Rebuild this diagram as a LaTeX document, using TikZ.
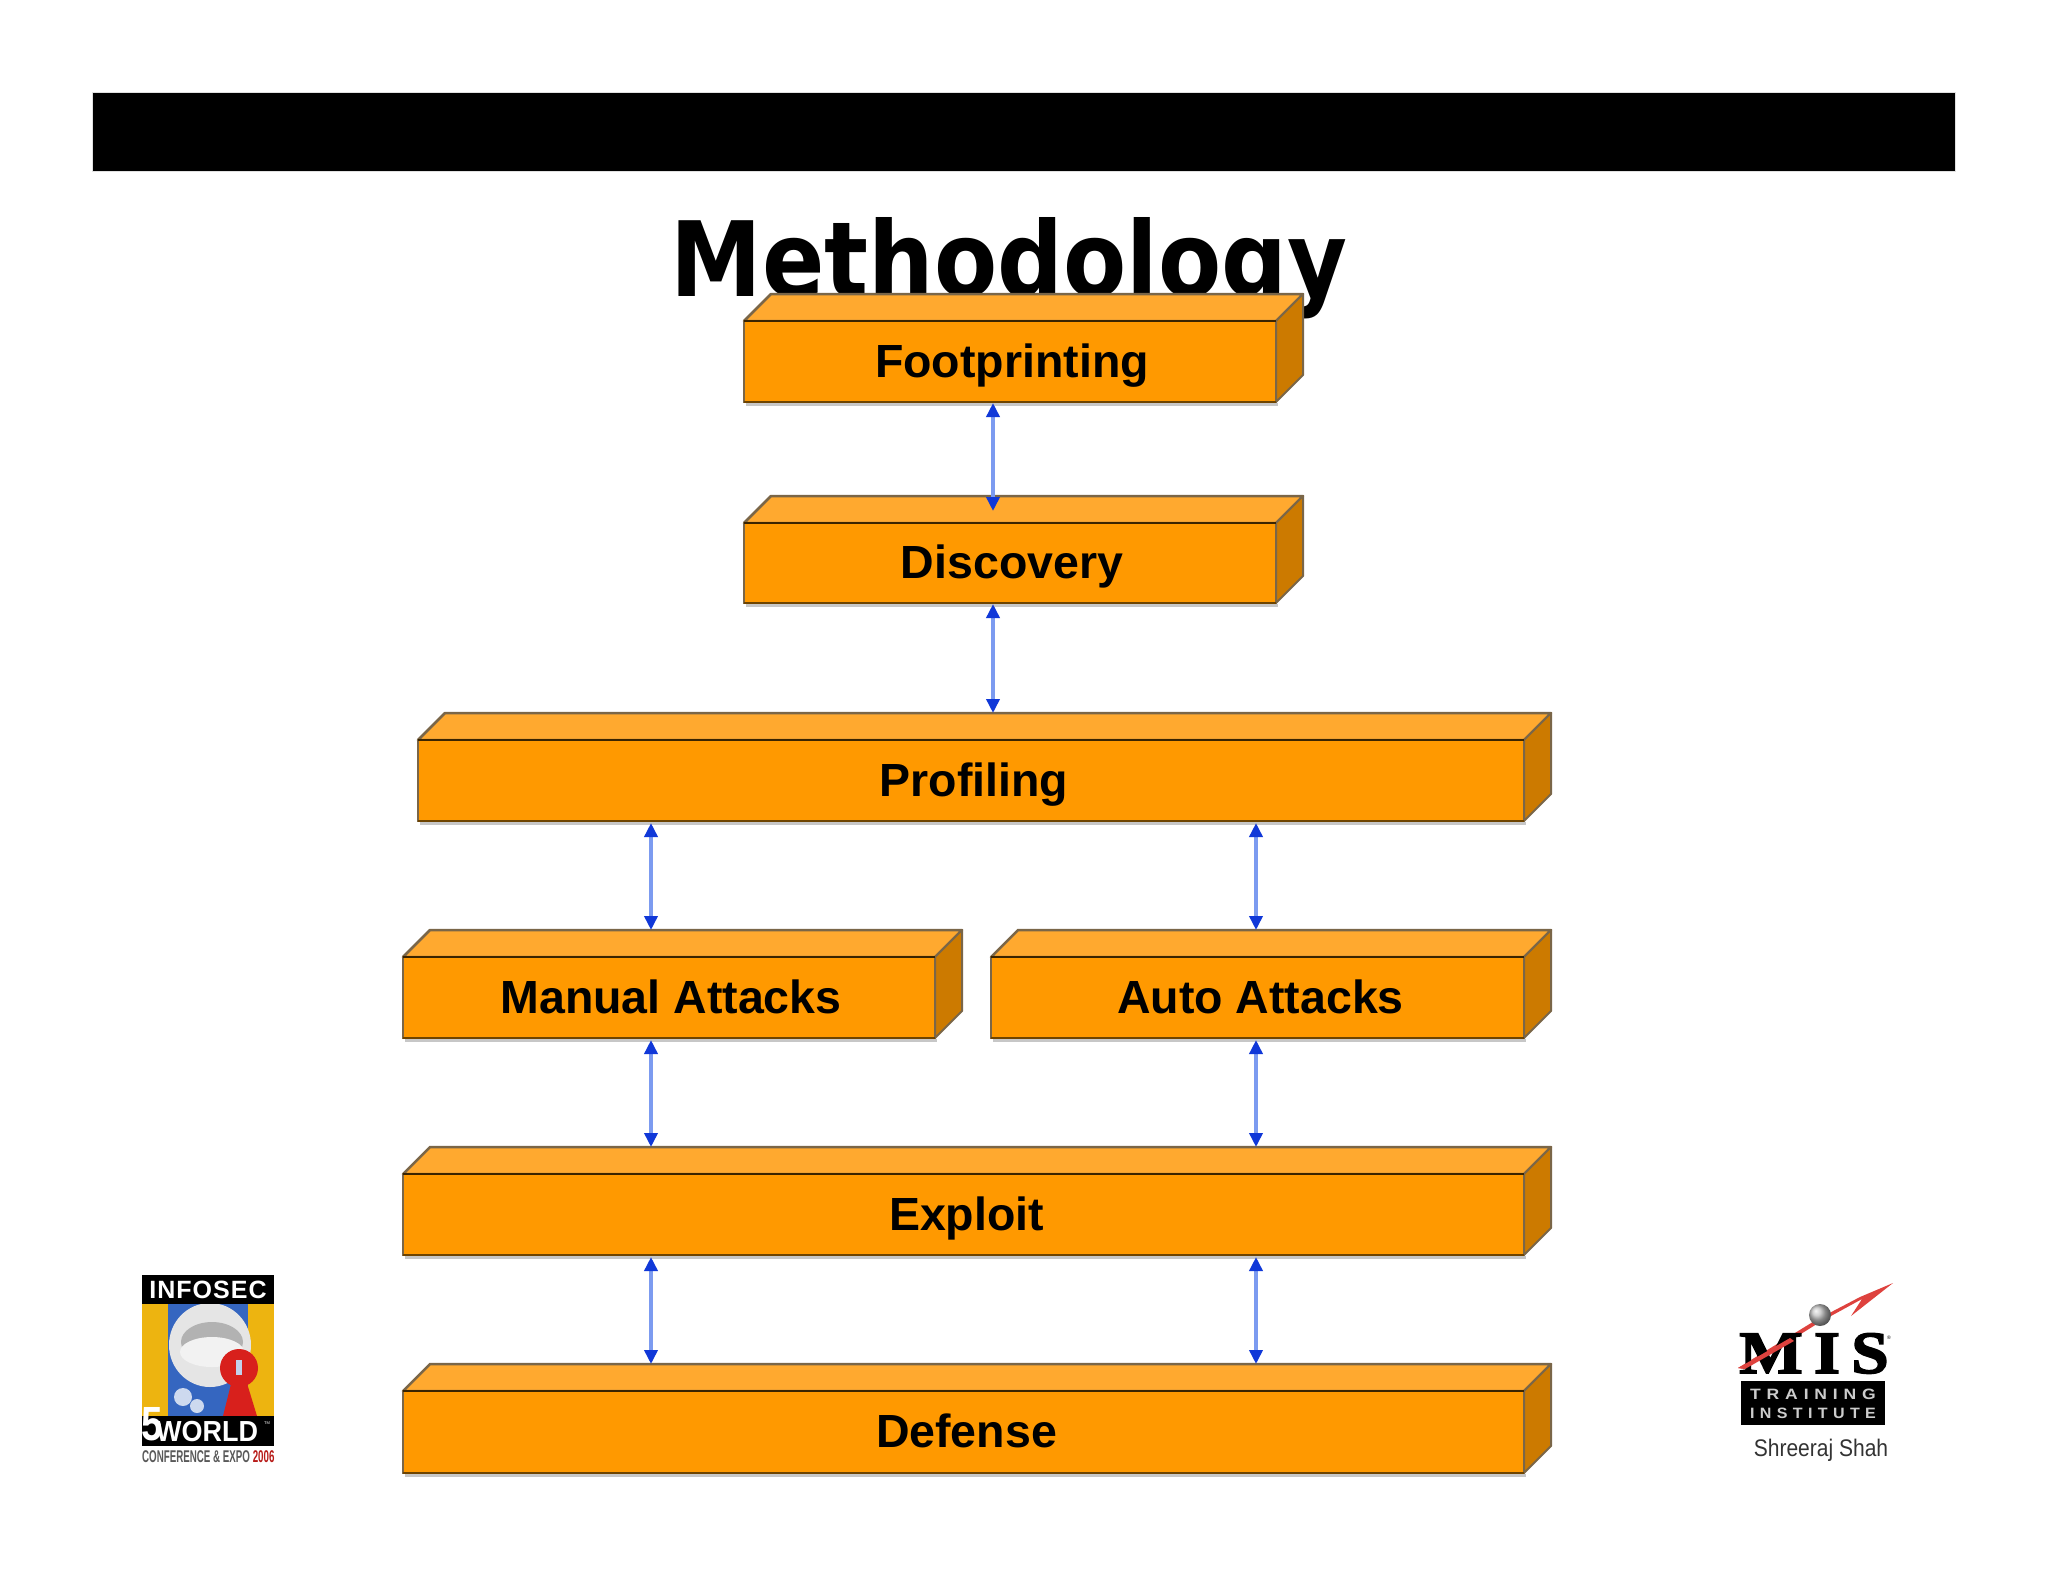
\documentclass[tikz,border=0pt]{standalone}
\usepackage{fontspec}
\setmainfont{Liberation Sans}
\newfontfamily\titlefont{DejaVu Sans}
\newfontfamily\serifbold[FakeBold=2.5]{Liberation Serif}
\usetikzlibrary{arrows.meta}
\definecolor{slabfront}{HTML}{FF9900}
\definecolor{slabtop}{HTML}{FFA92F}
\definecolor{slabside}{HTML}{CC7A00}
\definecolor{slabedge}{HTML}{7A6648}
\definecolor{slabdark}{HTML}{3A2400}
\definecolor{slablow}{HTML}{6E4400}
\definecolor{linkline}{HTML}{7C9BF0}
\definecolor{linktip}{HTML}{1038D8}
\definecolor{logored}{HTML}{D8201C}
\definecolor{logoyellow}{HTML}{EDB410}
\definecolor{logoblue}{HTML}{3566C0}
\tikzset{
  facetop/.style={fill=slabtop,draw=slabedge,line width=2.5pt,line join=round},
  faceside/.style={fill=slabside,draw=slabedge,line width=2pt,line join=round},
  slabfrontbox/.style={fill=slabfront,draw=slabedge,line width=2.5pt,inner sep=0pt,outer sep=0pt,align=center},
  slablabel/.style={inner sep=0pt,font=\fontsize{46.5}{50}\selectfont\bfseries,text height=33pt,text depth=0pt},
  link/.style={line width=4pt,draw=linkline,{Triangle[width=13pt,length=14pt,color=linktip]}-{Triangle[width=13pt,length=14pt,color=linktip]}}
}
% name, left, top, right, bottom, text, text shift
\newcommand{\slab}[7]{%
  \pgfmathsetlengthmacro{\slabw}{(#4-#2)*1pt}%
  \pgfmathsetlengthmacro{\slabh}{(#5-#3)*1pt}%
  \pgfmathsetmacro{\slabcx}{(#2+#4)/2}%
  \pgfmathsetmacro{\slabcy}{(#3+#5)/2}%
  \fill[black!22] (#2+2,#5+1) rectangle (#4+2,#5+4);
  \draw[facetop] (#2,#3) -- (#2+27,#3-27) -- (#4+27,#3-27) -- (#4,#3) -- cycle;
  \draw[faceside] (#4,#3) -- (#4+27,#3-27) -- (#4+27,#5-27) -- (#4,#5) -- cycle;
  \node[slabfrontbox,minimum width=\slabw,minimum height=\slabh] (#1) at (\slabcx,\slabcy) {};
  \node[slablabel] (#1-label) at (\slabcx+#7,\slabcy-1) {#6};
  \draw[slabdark,line width=2.5pt] (#1.north west) -- (#1.north east);
  \draw[slablow,line width=2.5pt] (#1.south west) -- (#1.south east);
  \coordinate (#1-back) at (\slabcx,#3-27);
}
\begin{document}
\begin{tikzpicture}[x=1pt,y=-1pt]
\useasboundingbox (0,0) rectangle (2048,1582);
\fill[white] (0,0) rectangle (2048,1582);
% header bar
\fill[black!12] (92,92) rectangle (1956,172);
\fill[black] (93,93) rectangle (1955,171);
% title
\node[anchor=base,inner sep=0pt,font=\titlefont\bfseries\fontsize{104}{110}\selectfont] (title) at (1009,296) {\scalebox{.885}[1]{Methodology}};
% slabs
\slab{foot}{744}{321}{1276}{402}{Footprinting}{2}
\slab{disc}{744}{523}{1276}{603}{Discovery}{2}
\slab{prof}{418}{740}{1524}{821}{Profiling}{3}
\slab{manu}{403}{957}{935}{1038}{Manual Attacks}{2}
\slab{auto}{991}{957}{1524}{1038}{Auto Attacks}{3}
\slab{expl}{403}{1174}{1524}{1255}{Exploit}{3}
\slab{defe}{403}{1391}{1524}{1473}{Defense}{3}
% connector positions
\coordinate (xmid) at (993,0);
\coordinate (xleft) at (651,0);
\coordinate (xright) at (1256,0);
% connectors
\draw[link,shorten <=-1pt,shorten >=-15pt] (foot.south -| xmid) ++(0,2) -- (disc-back -| xmid);
\draw[link,shorten <=-1pt] (disc.south -| xmid) ++(0,2) -- (prof-back -| xmid);
\draw[link] (prof.south -| xleft) ++(0,2) -- (manu-back -| xleft);
\draw[link] (prof.south -| xright) ++(0,2) -- (auto-back -| xright);
\draw[link] (manu.south -| xleft) ++(0,2) -- (expl-back -| xleft);
\draw[link] (auto.south -| xright) ++(0,2) -- (expl-back -| xright);
\draw[link] (expl.south -| xleft) ++(0,2) -- (defe-back -| xleft);
\draw[link] (expl.south -| xright) ++(0,2) -- (defe-back -| xright);
% left logo
\fill[logoyellow] (142,1304) rectangle (274,1416);
\fill[logoblue] (168,1304) rectangle (248,1416);
\fill[black!10] (210,1345) ellipse (41 and 42);
\fill[black!30] (212,1342) ellipse (31 and 20);
\fill[black!5] (212,1352) ellipse (32 and 15);
\fill[white!75!logoblue] (183,1397) circle (9);
\fill[white!75!logoblue] (197,1406) circle (7);
\fill[logored] (239,1368) circle (19);
\fill[logored] (232,1380) -- (246,1380) -- (257,1416) -- (223,1416) -- cycle;
\fill[white!70!logoblue] (236,1360) rectangle (242,1375);
\fill[black] (142,1275) rectangle (274,1304);
\node[text=white,inner sep=0pt,font=\bfseries\fontsize{25}{28}\selectfont] (infosec) at (208,1290) {I\kern1ptN\kern1ptF\kern1ptO\kern1ptS\kern1ptE\kern1ptC};
\fill[black] (142,1416) rectangle (274,1446);
\node[text=white,anchor=west,inner sep=0pt,font=\bfseries\fontsize{29}{30}\selectfont] (world) at (156,1431) {\scalebox{.93}[1]{WORLD}};
\node[text=white,inner sep=0pt,font=\bfseries\fontsize{48}{50}\selectfont] (five) at (152,1424) {\scalebox{.8}[1]{5}};
\node[text=white,inner sep=0pt,font=\fontsize{4}{5}\selectfont] (tm) at (267,1423) {TM};
\node[anchor=west,text=black!65,inner sep=0pt,font=\bfseries\fontsize{17}{18}\selectfont] (conf) at (142,1457) {\scalebox{.574}[1]{CONFERENCE \& EXPO \textcolor{logored!85!black}{2006}}};
% right logo
\fill[logored!85!white] (1738,1368) -- (1816,1320) -- (1860,1297) -- (1893,1283) -- (1851,1316) -- (1862,1299) -- (1820,1322) -- (1745,1369) -- cycle;
\shade[ball color=black!25] (1820,1315) circle (11);
\node[anchor=base,inner sep=0pt,text=black,font=\serifbold\bfseries\fontsize{60}{62}\selectfont] (mis) at (1814,1373) {\scalebox{1.12}[1]{M\,I\,S}};
\fill[logored!85!white] (1738,1368) -- (1790,1338) -- (1794,1341) -- (1745,1369) -- cycle;
\node[inner sep=0pt,font=\fontsize{5}{6}\selectfont] (reg) at (1889,1338) {\textregistered};
\fill[black] (1741,1381) rectangle (1885,1425);
\node[text=white!80!black,inner sep=0pt,font=\bfseries\fontsize{15}{16}\selectfont] (train) at (1813,1394) {\scalebox{1.17}[1]{T\,\,R\,\,A\,\,I\,\,N\,\,I\,\,N\,\,G}};
\node[text=white!80!black,inner sep=0pt,font=\bfseries\fontsize{15}{16}\selectfont] (inst) at (1813,1413) {\scalebox{1.07}[1]{I\,\,N\,\,S\,\,T\,\,I\,\,T\,\,U\,\,T\,\,E}};
\node[anchor=base,inner sep=0pt,text=black!80,font=\fontsize{24}{26}\selectfont] (author) at (1821,1456) {\scalebox{.875}[1]{Shreeraj Shah}};
\end{tikzpicture}
\end{document}
